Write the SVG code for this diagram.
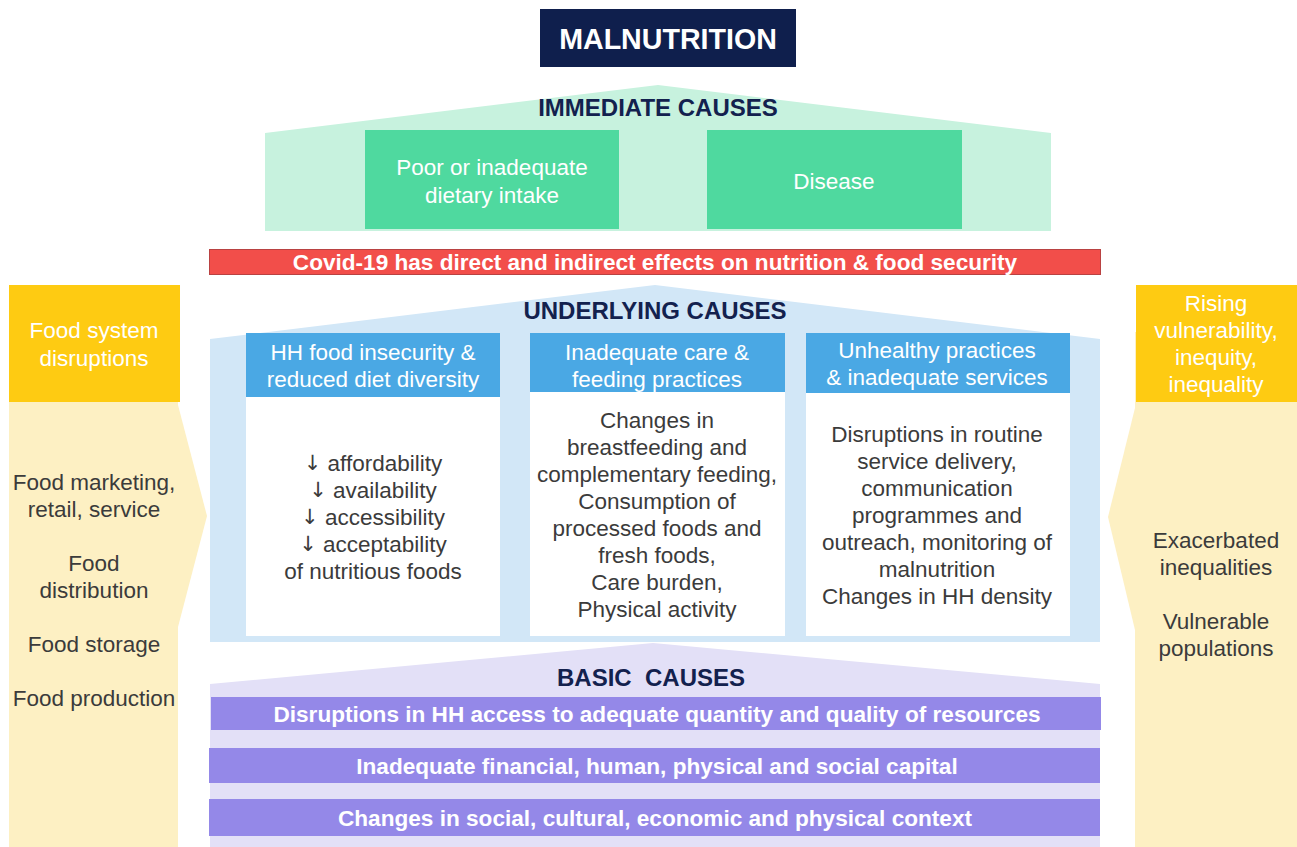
<svg xmlns="http://www.w3.org/2000/svg" width="1297" height="847" viewBox="0 0 1297 847">
<style>
text{font-family:"Liberation Sans",Arial,sans-serif;text-anchor:middle;dominant-baseline:central}
.t{font-size:24px;font-weight:bold;fill:#13214e}
.w{font-size:22.5px;fill:#ffffff}
.g{font-size:22.5px;fill:#3b3b3b}
.ar{font-family:"DejaVu Sans",sans-serif;font-size:21px;fill:#3b3b3b}
.b{font-size:22.6px;font-weight:bold;fill:#ffffff}
.bar{fill:#9488e8}
.hdr{fill:#4aa8e4}
.body{fill:#ffffff}
.gold{fill:#fecb12}
.cream{fill:#fdf0c3}
</style>
<rect width="1297" height="847" fill="#ffffff"/>

<g id="malnutrition">
<rect x="540" y="9" width="256" height="58" fill="#0f1f4d"/>
<text x="668" y="39" style="font-size:28.6px;font-weight:bold;fill:#fff">MALNUTRITION</text>
</g>

<g id="immediate">
<polygon points="265,133 658,85 1051,133 1051,231 265,231" fill="#c7f2de"/>
<text class="t" x="658" y="107">IMMEDIATE CAUSES</text>
</g>
<g id="dietary">
<rect x="365" y="130" width="254" height="99" fill="#4fd99f"/>
<text class="w" x="492" y="167">Poor or inadequate</text>
<text class="w" x="492" y="195">dietary intake</text>
</g>
<g id="disease">
<rect x="707" y="130" width="255" height="99" fill="#4fd99f"/>
<text class="w" x="834" y="181">Disease</text>
</g>

<g id="covid">
<rect x="209.5" y="249.5" width="891" height="25" fill="#f24e4a" stroke="#b94242" stroke-width="1"/>
<text class="b" x="655" y="262">Covid-19 has direct and indirect effects on nutrition &amp; food security</text>
</g>

<g id="underlying">
<polygon points="210,339 655,285 1100,339 1100,642 210,642" fill="#d2e7f7"/>
<text class="t" x="655" y="310">UNDERLYING CAUSES</text>
</g>

<g id="hh-food">
<rect class="hdr" x="246" y="333" width="254" height="64"/>
<rect class="body" x="246" y="397" width="254" height="239"/>
<text class="w" x="373" y="352">HH food insecurity &amp;</text>
<text class="w" x="373" y="379">reduced diet diversity</text>
<text class="g" x="373" y="463"><tspan class="ar">↓</tspan> affordability</text>
<text class="g" x="373" y="490"><tspan class="ar">↓</tspan> availability</text>
<text class="g" x="373" y="517"><tspan class="ar">↓</tspan> accessibility</text>
<text class="g" x="373" y="544"><tspan class="ar">↓</tspan> acceptability</text>
<text class="g" x="373" y="571">of nutritious foods</text>
</g>

<g id="care">
<rect class="hdr" x="530" y="333" width="255" height="59"/>
<rect class="body" x="530" y="392" width="255" height="244"/>
<text class="w" x="657" y="352">Inadequate care &amp;</text>
<text class="w" x="657" y="379">feeding practices</text>
<text class="g" x="657" y="420">Changes in</text>
<text class="g" x="657" y="447">breastfeeding and</text>
<text class="g" x="657" y="474">complementary feeding,</text>
<text class="g" x="657" y="501">Consumption of</text>
<text class="g" x="657" y="528">processed foods and</text>
<text class="g" x="657" y="555">fresh foods,</text>
<text class="g" x="657" y="582">Care burden,</text>
<text class="g" x="657" y="609">Physical activity</text>
</g>

<g id="services">
<rect class="hdr" x="806" y="333" width="264" height="60"/>
<rect class="body" x="806" y="393" width="264" height="243"/>
<text class="w" x="937" y="350">Unhealthy practices</text>
<text class="w" x="937" y="377">&amp; inadequate services</text>
<text class="g" x="937" y="434">Disruptions in routine</text>
<text class="g" x="937" y="461">service delivery,</text>
<text class="g" x="937" y="488">communication</text>
<text class="g" x="937" y="515">programmes and</text>
<text class="g" x="937" y="542">outreach, monitoring of</text>
<text class="g" x="937" y="569">malnutrition</text>
<text class="g" x="937" y="596">Changes in HH density</text>
</g>

<g id="basic">
<polygon points="210,684 653,643 1100,684 1100,847 210,847" fill="#e3e0f7"/>
<text class="t" x="651" y="677" xml:space="preserve">BASIC  CAUSES</text>
</g>
<g id="basic-1">
<rect class="bar" x="211" y="697" width="890" height="33"/>
<text class="b" x="657" y="714">Disruptions in HH access to adequate quantity and quality of resources</text>
</g>
<g id="basic-2">
<rect class="bar" x="209" y="748" width="891" height="35"/>
<text class="b" x="657" y="766">Inadequate financial, human, physical and social capital</text>
</g>
<g id="basic-3">
<rect class="bar" x="209" y="799" width="891" height="37"/>
<text class="b" x="655" y="818">Changes in social, cultural, economic and physical context</text>
</g>

<g id="food-system">
<rect class="cream" x="9" y="402" width="169" height="445"/>
<rect class="gold" x="9" y="285" width="171" height="117"/>
<text class="w" x="94" y="330">Food system</text>
<text class="w" x="94" y="358">disruptions</text>
<text class="g" x="94" y="482">Food marketing,</text>
<text class="g" x="94" y="509">retail, service</text>
<text class="g" x="94" y="563">Food</text>
<text class="g" x="94" y="590">distribution</text>
<text class="g" x="94" y="644">Food storage</text>
<text class="g" x="94" y="698">Food production</text>
</g>

<g id="vulnerability">
<rect class="cream" x="1135" y="332" width="162" height="515"/>
<rect class="gold" x="1136" y="285" width="161" height="117"/>
<text class="w" x="1216" y="303">Rising</text>
<text class="w" x="1216" y="330">vulnerability,</text>
<text class="w" x="1216" y="357">inequity,</text>
<text class="w" x="1216" y="384">inequality</text>
<text class="g" x="1216" y="540">Exacerbated</text>
<text class="g" x="1216" y="567">inequalities</text>
<text class="g" x="1216" y="621">Vulnerable</text>
<text class="g" x="1216" y="648">populations</text>
</g>

<g id="connectors">
<polygon class="cream" points="178,405 207,516 178,627"/>
<polygon class="cream" points="1135,408 1108,517 1135,630"/>
</g>
</svg>
